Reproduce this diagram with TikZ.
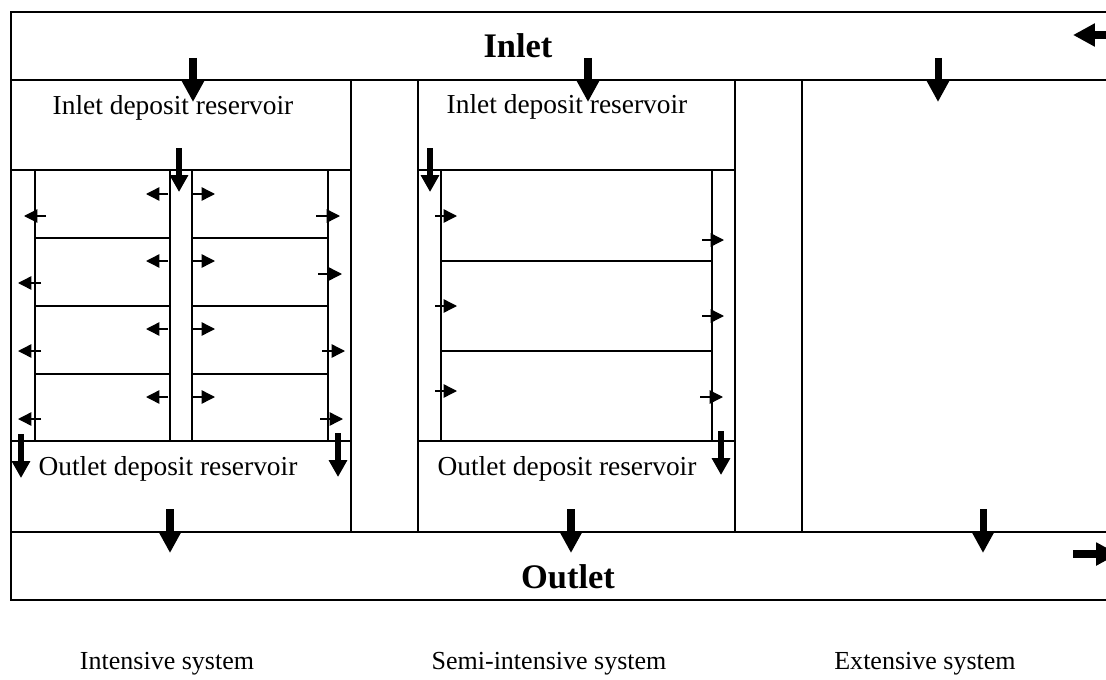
\documentclass[tikz,border=0pt]{standalone}
\usepackage{fontspec}
\setmainfont{Liberation Serif}
\usetikzlibrary{arrows.meta}

\begin{document}
\begin{tikzpicture}[
        x=0.25mm, y=-0.25mm,
        frame/.style={line width=1.6pt, draw=black},
        wall/.style={line width=0.8pt, draw=black},
        bigarr/.style={-{Triangle[length=15.5pt, width=15.5pt]}, line width=5pt},
        midarr/.style={-{Triangle[length=12pt, width=12.5pt]}, line width=3.8pt},
        smallarr/.style={-{Triangle[length=9.5pt, width=9.5pt]}, line width=1pt},
        lbl/.style={font=\fontsize{19.5}{22}\selectfont, inner sep=0pt},
        title/.style={font=\fontsize{24.5}{28}\selectfont\bfseries, inner sep=0pt},
        sys/.style={font=\fontsize{18.5}{22}\selectfont, inner sep=0pt}
    ]
    \clip (0,0) rectangle (1106,679);

    % channels along the top and bottom
    \draw[frame] (1130,12) -- (11,12) -- (11,600) -- (1130,600);
    \draw[wall, line width=1.1pt] (11,80) -- (1130,80);
    \draw[wall, line width=1.1pt] (11,532) -- (1130,532);
    \node[title] (inlet) at (518,46) {Inlet};
    \node[title] (outlet) at (568,577) {Outlet};

    % intensive system
    \draw[wall] (351,80) -- (351,532);
    \draw[wall] (11,170) -- (351,170);
    \draw[wall] (11,441) -- (351,441);
    \foreach \x in {35,170,192,328}
        \draw[wall] (\x,170) -- (\x,441);
    \foreach \y in {238,306,374} {
        \draw[wall] (35,\y) -- (170,\y);
        \draw[wall] (192,\y) -- (328,\y);
    }
    \node[lbl] (iinres) at (173,108) {Inlet deposit reservoir};
    \node[lbl] (ioutres) at (168,469) {Outlet deposit reservoir};

    % semi-intensive system
    \draw[wall] (418,80) -- (418,532);
    \draw[wall] (735,80) -- (735,532);
    \draw[wall] (418,170) -- (735,170);
    \draw[wall] (418,441) -- (735,441);
    \draw[wall] (441,170) -- (441,441);
    \draw[wall] (712,170) -- (712,441);
    \draw[wall] (441,261) -- (712,261);
    \draw[wall] (441,351) -- (712,351);
    \node[lbl] (sinres) at (567,107) {Inlet deposit reservoir};
    \node[lbl] (soutres) at (567,469) {Outlet deposit reservoir};

    % extensive system
    \draw[wall] (802,80) -- (802,532);

    % main flow
    \draw[bigarr] (1120,35) -- (1073,35);
    \draw[bigarr] (1073,554) -- (1118,554);
    \foreach \x in {193,588,938}
        \draw[bigarr] (\x,58) -- (\x,102);
    \foreach \x in {170,571,983}
        \draw[bigarr] (\x,509) -- (\x,553);

    % flow through the ponds
    \draw[midarr] (179,148) -- (179,192);
    \draw[midarr] (430,148) -- (430,192);
    \draw[midarr] (21,434) -- (21,478);
    \draw[midarr] (338,433) -- (338,477);
    \draw[midarr] (721,431) -- (721,475);

    \foreach \y in {194,261,329,397} {
        \draw[smallarr] (168,\y) -- (146,\y);
        \draw[smallarr] (193,\y) -- (215,\y);
    }
    \draw[smallarr] (46,216) -- (24,216);
    \foreach \y in {283,351,419}
        \draw[smallarr] (41,\y) -- (18,\y);
    \draw[smallarr] (316,216) -- (340,216);
    \draw[smallarr] (318,274) -- (342,274);
    \draw[smallarr] (322,351) -- (345,351);
    \draw[smallarr] (320,419) -- (343,419);

    \foreach \y in {216,306,391}
        \draw[smallarr] (435,\y) -- (457,\y);
    \draw[smallarr] (702,240) -- (724,240);
    \draw[smallarr] (702,316) -- (724,316);
    \draw[smallarr] (700,397) -- (723,397);

    % captions
    \node[sys] (intensive) at (167,664) {Intensive system};
    \node[sys] (semi) at (549,664) {Semi-intensive system};
    \node[sys] (extensive) at (925,664) {Extensive system};
\end{tikzpicture}
\end{document}
